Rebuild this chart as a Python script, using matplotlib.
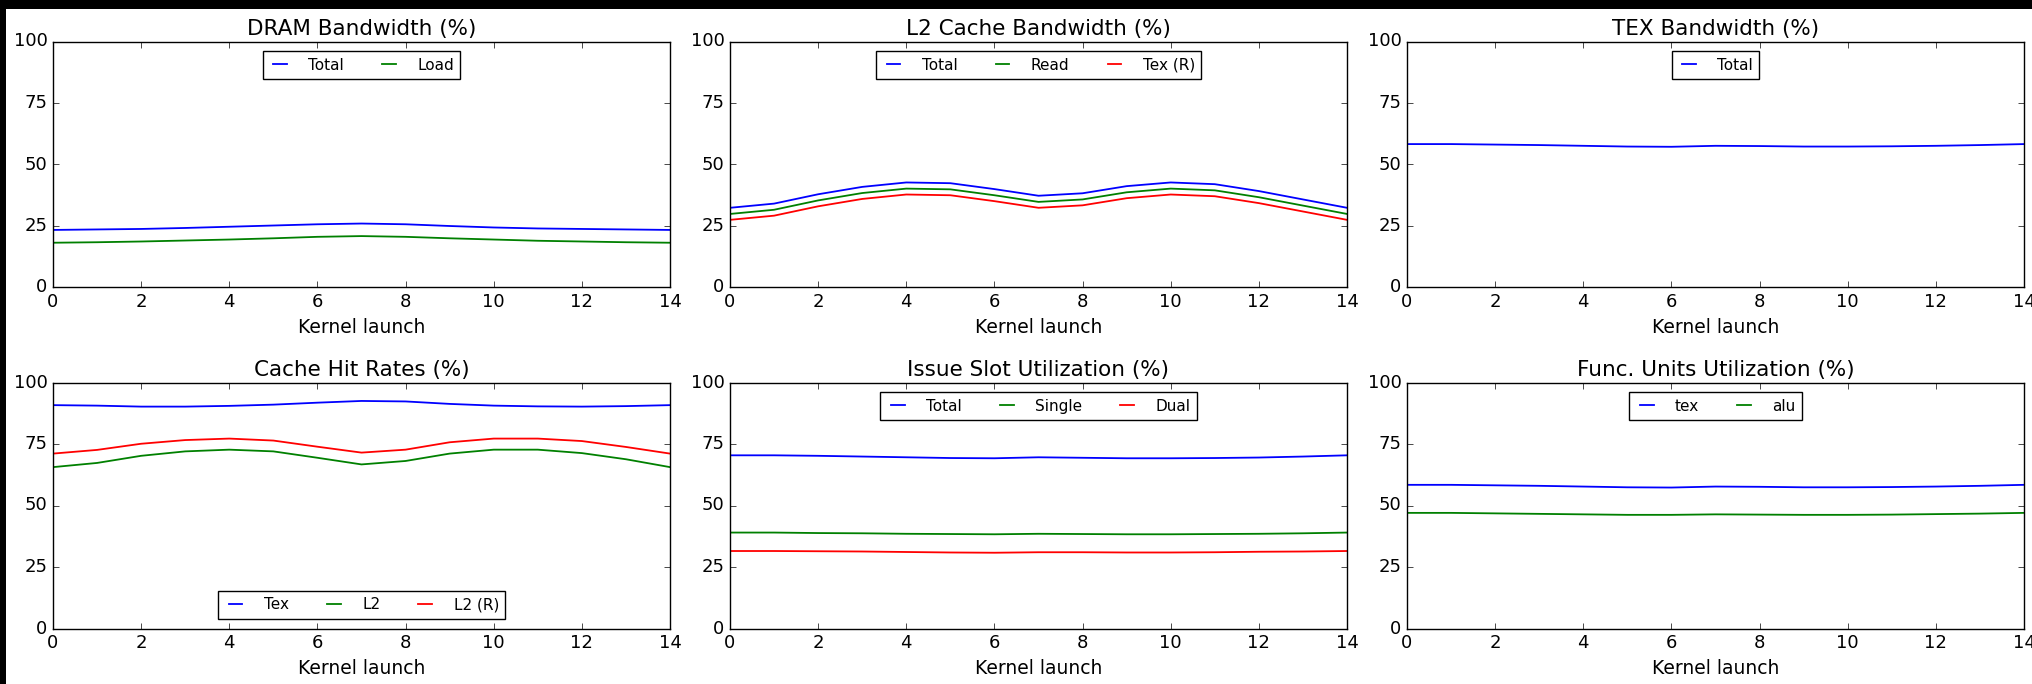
import matplotlib
matplotlib.use("Agg")
import matplotlib.pyplot as plt
from matplotlib.patches import Rectangle

x = list(range(15))

dram_total = [23.4, 23.6, 23.8, 24.2, 24.7, 25.2, 25.7, 26.0, 25.7, 25.0, 24.4, 24.0, 23.8, 23.6, 23.4]
dram_load = [18.2, 18.4, 18.7, 19.1, 19.5, 20.0, 20.6, 20.9, 20.6, 20.0, 19.5, 19.0, 18.7, 18.4, 18.2]

l2_total = [32.4, 34.1, 37.9, 40.9, 42.7, 42.4, 40.0, 37.3, 38.3, 41.2, 42.7, 42.0, 39.2, 35.8, 32.4]
l2_read = [29.9, 31.6, 35.4, 38.4, 40.2, 39.9, 37.5, 34.8, 35.8, 38.7, 40.2, 39.5, 36.7, 33.3, 29.9]
l2_tex = [27.5, 29.2, 33.0, 36.0, 37.8, 37.5, 35.1, 32.4, 33.4, 36.3, 37.8, 37.1, 34.3, 30.9, 27.5]

tex_total = [58.3, 58.3, 58.1, 57.9, 57.6, 57.3, 57.2, 57.6, 57.5, 57.3, 57.3, 57.4, 57.6, 57.9, 58.3]

hit_tex = [90.8, 90.6, 90.2, 90.2, 90.5, 91.0, 91.8, 92.5, 92.3, 91.3, 90.6, 90.3, 90.2, 90.4, 90.8]
hit_l2 = [65.6, 67.3, 70.2, 72.0, 72.7, 72.0, 69.4, 66.7, 68.1, 71.1, 72.7, 72.7, 71.3, 68.8, 65.6]
hit_l2r = [71.1, 72.6, 75.1, 76.6, 77.2, 76.4, 73.9, 71.5, 72.7, 75.7, 77.2, 77.2, 76.2, 73.8, 71.1]

issue_total = [70.4, 70.4, 70.2, 69.9, 69.6, 69.3, 69.2, 69.6, 69.4, 69.2, 69.2, 69.3, 69.5, 69.9, 70.4]
issue_single = [39.0, 39.0, 38.8, 38.7, 38.5, 38.4, 38.3, 38.5, 38.4, 38.3, 38.3, 38.4, 38.5, 38.7, 39.0]
issue_dual = [31.5, 31.5, 31.4, 31.3, 31.1, 30.9, 30.8, 31.0, 31.0, 30.9, 30.9, 31.0, 31.2, 31.3, 31.5]

fu_tex = [58.4, 58.4, 58.2, 58.0, 57.7, 57.4, 57.3, 57.7, 57.6, 57.4, 57.4, 57.5, 57.7, 58.0, 58.4]
fu_alu = [47.0, 47.0, 46.8, 46.6, 46.4, 46.2, 46.2, 46.4, 46.3, 46.2, 46.2, 46.3, 46.5, 46.7, 47.0]

titles = ["DRAM Bandwidth (%)", "L2 Cache Bandwidth (%)", "TEX Bandwidth (%)",
          "Cache Hit Rates (%)", "Issue Slot Utilization (%)", "Func. Units Utilization (%)"]
panels = [
    ([dram_total, dram_load], ["Total", "Load"], "upper center"),
    ([l2_total, l2_read, l2_tex], ["Total", "Read", "Tex (R)"], "upper center"),
    ([tex_total], ["Total"], "upper center"),
    ([hit_tex, hit_l2, hit_l2r], ["Tex", "L2", "L2 (R)"], "lower center"),
    ([issue_total, issue_single, issue_dual], ["Total", "Single", "Dual"], "upper center"),
    ([fu_tex, fu_alu], ["tex", "alu"], "upper center"),
]
colors = ["#0000ff", "#008000", "#ff0000"]
yticks = [0, 25, 50, 75, 100]
xticks = [0, 2, 4, 6, 8, 10, 12, 14]

plt.style.use("classic")
plt.rcParams["font.family"] = ["DejaVu Sans"]
plt.rcParams["figure.facecolor"] = "white"
plt.rcParams["savefig.facecolor"] = "white"

W, H = 2033, 684
fig = plt.figure(figsize=(W / 100, H / 100), dpi=100)

lefts = [53, 730, 1407]
tops = [41.5, 382.5]
aw, ah = 617, 246

for i, (series, labels, loc) in enumerate(panels):
    r, c = divmod(i, 3)
    ax = fig.add_axes([lefts[c] / W, 1 - (tops[r] + ah) / H, aw / W, ah / H])
    for s, lab, col in zip(series, labels, colors):
        ax.plot(x, s, color=col, lw=1.3, label=lab)
    ax.set_xlim(0, 14)
    ax.set_ylim(0, 100)
    ax.set_xticks(xticks)
    ax.set_yticks(yticks)
    ax.tick_params(labelsize=13)
    ax.set_title(titles[i], fontsize=15.5)
    ax.set_xlabel("Kernel launch", fontsize=13.5)
    leg = ax.legend(loc=loc, ncol=len(series), fontsize=11, frameon=True,
                    fancybox=False, shadow=False, handlelength=1.5,
                    handletextpad=1.1, columnspacing=2.2, borderaxespad=0.65)
    leg.get_frame().set_edgecolor("black")
    leg.get_frame().set_linewidth(1.0)

fig.patches.append(Rectangle((0, 1 - 9 / H), 1, 9 / H, transform=fig.transFigure,
                             facecolor="black", edgecolor="none", zorder=10))
fig.patches.append(Rectangle((0, 0), 6 / W, 1, transform=fig.transFigure,
                             facecolor="black", edgecolor="none", zorder=10))

fig.savefig("out.png", dpi=100)
